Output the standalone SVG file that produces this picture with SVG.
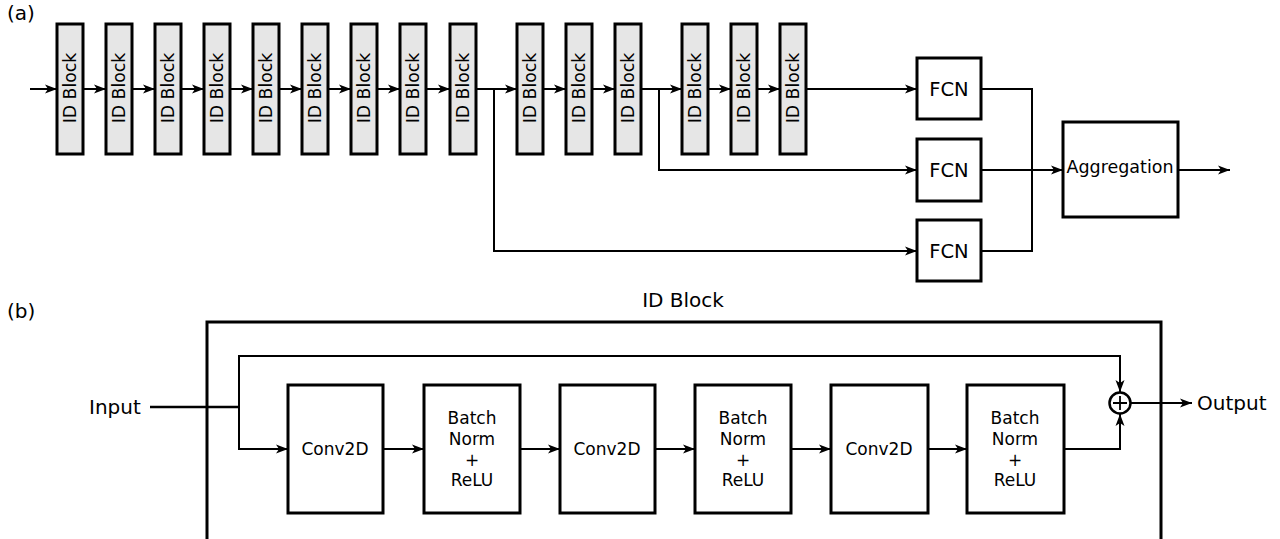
<svg xmlns="http://www.w3.org/2000/svg" width="1280" height="539" viewBox="0 0 1280 539">
<style>
text{font-family:"DejaVu Sans","Liberation Sans",sans-serif;fill:#000}
.blk{fill:#e6e6e6;stroke:#000;stroke-width:3}
.box{fill:#fff;stroke:#000;stroke-width:3}
.bt{font-size:17.3px;text-anchor:middle;dominant-baseline:central}
.t17{font-size:17px;text-anchor:middle}
.t19{font-size:19.5px;text-anchor:middle}
.lbl{font-size:20px}
.c{fill:none;stroke:#000;stroke-width:2}
.ca{fill:none;stroke:#000;stroke-width:2;marker-end:url(#ah)}
</style>
<defs>
<marker id="ah" markerUnits="userSpaceOnUse" markerWidth="13" markerHeight="10" refX="12" refY="5" orient="auto">
<path d="M0,0.5 L12,5 L0,9.5 L3,5 Z" fill="#000"/>
</marker>
</defs>
<text class="lbl" x="7" y="20">(a)</text>
<text class="lbl" x="7" y="318">(b)</text>
<g id="idblocks">
<g id="blk1"><rect class="blk" x="57" y="24" width="26" height="130"/><text class="bt" transform="translate(70,88) rotate(-90)">ID Block</text></g>
<g id="blk2"><rect class="blk" x="106" y="24" width="26" height="130"/><text class="bt" transform="translate(119,88) rotate(-90)">ID Block</text></g>
<g id="blk3"><rect class="blk" x="155" y="24" width="26" height="130"/><text class="bt" transform="translate(168,88) rotate(-90)">ID Block</text></g>
<g id="blk4"><rect class="blk" x="204" y="24" width="26" height="130"/><text class="bt" transform="translate(217,88) rotate(-90)">ID Block</text></g>
<g id="blk5"><rect class="blk" x="253" y="24" width="26" height="130"/><text class="bt" transform="translate(266,88) rotate(-90)">ID Block</text></g>
<g id="blk6"><rect class="blk" x="302" y="24" width="26" height="130"/><text class="bt" transform="translate(315,88) rotate(-90)">ID Block</text></g>
<g id="blk7"><rect class="blk" x="351" y="24" width="26" height="130"/><text class="bt" transform="translate(364,88) rotate(-90)">ID Block</text></g>
<g id="blk8"><rect class="blk" x="400" y="24" width="26" height="130"/><text class="bt" transform="translate(413,88) rotate(-90)">ID Block</text></g>
<g id="blk9"><rect class="blk" x="450" y="24" width="26" height="130"/><text class="bt" transform="translate(463,88) rotate(-90)">ID Block</text></g>
<g id="blk10"><rect class="blk" x="517" y="24" width="26" height="130"/><text class="bt" transform="translate(530,88) rotate(-90)">ID Block</text></g>
<g id="blk11"><rect class="blk" x="566" y="24" width="26" height="130"/><text class="bt" transform="translate(579,88) rotate(-90)">ID Block</text></g>
<g id="blk12"><rect class="blk" x="615" y="24" width="26" height="130"/><text class="bt" transform="translate(628,88) rotate(-90)">ID Block</text></g>
<g id="blk13"><rect class="blk" x="682" y="24" width="26" height="130"/><text class="bt" transform="translate(695,88) rotate(-90)">ID Block</text></g>
<g id="blk14"><rect class="blk" x="731" y="24" width="26" height="130"/><text class="bt" transform="translate(744,88) rotate(-90)">ID Block</text></g>
<g id="blk15"><rect class="blk" x="780" y="24" width="26" height="130"/><text class="bt" transform="translate(793,88) rotate(-90)">ID Block</text></g>
</g>
<g id="fcn1"><rect class="box" x="917" y="58" width="64" height="61"/><text class="t19" x="949" y="96">FCN</text></g>
<g id="fcn2"><rect class="box" x="917" y="139" width="64" height="62"/><text class="t19" x="949" y="177">FCN</text></g>
<g id="fcn3"><rect class="box" x="917" y="220" width="64" height="61"/><text class="t19" x="949" y="258">FCN</text></g>
<g id="agg"><rect class="box" x="1063" y="122" width="115" height="95"/><text x="1120" y="173" style="font-size:17.5px;text-anchor:middle">Aggregation</text></g>
<text x="683" y="307" style="font-size:20px;text-anchor:middle">ID Block</text>
<g id="idblock-frame"><path d="M207,539 V322 H1161 V539" fill="none" stroke="#000" stroke-width="3"/></g>
<g id="conv1"><rect class="box" x="288" y="385" width="95" height="128"/><text class="t17" x="335" y="455">Conv2D</text></g>
<g id="bn1"><rect class="box" x="424" y="385" width="96" height="128"/><text class="t17" x="472" y="424">Batch</text><text class="t17" x="472" y="445">Norm</text><text class="t17" x="472" y="466">+</text><text class="t17" x="472" y="486">ReLU</text></g>
<g id="conv2"><rect class="box" x="560" y="385" width="95" height="128"/><text class="t17" x="607" y="455">Conv2D</text></g>
<g id="bn2"><rect class="box" x="695" y="385" width="96" height="128"/><text class="t17" x="743" y="424">Batch</text><text class="t17" x="743" y="445">Norm</text><text class="t17" x="743" y="466">+</text><text class="t17" x="743" y="486">ReLU</text></g>
<g id="conv3"><rect class="box" x="831" y="385" width="97" height="128"/><text class="t17" x="879" y="455">Conv2D</text></g>
<g id="bn3"><rect class="box" x="967" y="385" width="97" height="128"/><text class="t17" x="1015" y="424">Batch</text><text class="t17" x="1015" y="445">Norm</text><text class="t17" x="1015" y="466">+</text><text class="t17" x="1015" y="486">ReLU</text></g>
<g id="sum"><circle cx="1120" cy="403" r="10.5" fill="#fff" stroke="#000" stroke-width="2.5"/><path d="M1113,403 H1127 M1120,396 V410" stroke="#000" stroke-width="1.8"/></g>
<text class="lbl" x="89" y="414">Input</text>
<text class="lbl" x="1197" y="410">Output</text>
<g id="connectors">
<path class="ca" d="M30,89 H57"/>
<path class="ca" d="M83,89 H106"/>
<path class="ca" d="M132,89 H155"/>
<path class="ca" d="M181,89 H204"/>
<path class="ca" d="M230,89 H253"/>
<path class="ca" d="M279,89 H302"/>
<path class="ca" d="M328,89 H351"/>
<path class="ca" d="M377,89 H400"/>
<path class="ca" d="M426,89 H450"/>
<path class="ca" d="M476,89 H517"/>
<path class="ca" d="M543,89 H566"/>
<path class="ca" d="M592,89 H615"/>
<path class="ca" d="M641,89 H682"/>
<path class="ca" d="M708,89 H731"/>
<path class="ca" d="M757,89 H780"/>
<path class="ca" d="M806,89 H917"/>
<path class="ca" d="M494,89 V251 H917"/>
<path class="ca" d="M659,89 V170 H917"/>
<path class="c" d="M981,89 H1032 V251 H981"/>
<path class="ca" d="M981,170 H1063"/>
<path class="ca" d="M1178,170 H1230"/>
<path d="M150,407 H239" stroke="#000" stroke-width="2.5"/>
<path class="c" d="M239,407 V356 H1120 V392" style="marker-end:url(#ah)"/>
<path class="ca" d="M239,407 V449 H288"/>
<path class="ca" d="M383,449 H424"/>
<path class="ca" d="M520,449 H560"/>
<path class="ca" d="M655,449 H695"/>
<path class="ca" d="M791,449 H831"/>
<path class="ca" d="M928,449 H967"/>
<path class="ca" d="M1064,449 H1120 V414"/>
<path class="ca" d="M1131,403 H1192"/>
</g>
</svg>
